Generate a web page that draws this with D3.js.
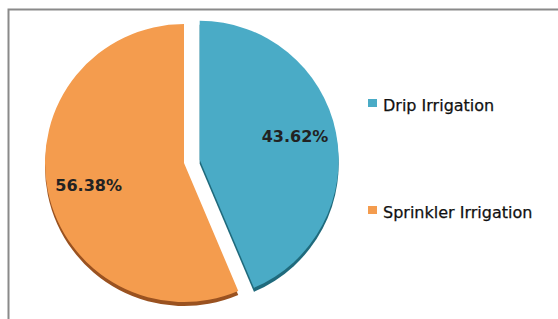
<!DOCTYPE html>
<html>
<head>
  <script src="https://d3js.org/d3.v7.min.js"></script>
  <style>
    body { margin: 0; background: #fff; }
  </style>
</head>
<body>
  <script>
    const categories = ["Drip Irrigation", "Sprinkler Irrigation"];
    const shares = [43.62, 56.38];
    const colors = ["#4aabc6", "#f49c4e"];
    const shadowColors = ["#1f6a7c", "#9a5220"];

    const width = 558, height = 319;
    const radius = 139;
    const cx = 184, cy = 163;
    const explode = 16;

    const svg = d3.select("body").append("svg")
      .attr("width", width)
      .attr("height", height);

    // frame (only top and left edges show in the crop)
    svg.append("path")
      .attr("d", "M8.5," + height + "V9.5H" + width)
      .attr("fill", "none")
      .attr("stroke", "#8a8a8a")
      .attr("stroke-width", 2);

    const pie = d3.pie().value(d => d).sort(null);
    const arc = d3.arc().innerRadius(0).outerRadius(radius);
    const slices = pie(shares);

    // explode the first slice along its bisector
    function offset(d, i) {
      if (i !== 0) return [0, 0];
      const a = (d.startAngle + d.endAngle) / 2;
      return [Math.sin(a) * explode, -Math.cos(a) * explode];
    }

    const g = svg.append("g").attr("transform", "translate(" + cx + "," + cy + ")");

    const arcs = g.selectAll(".arc")
      .data(slices)
      .enter()
      .append("g")
      .attr("class", "arc")
      .attr("transform", (d, i) => "translate(" + offset(d, i) + ")");

    // shadow below each slice
    arcs.append("path")
      .attr("d", arc)
      .attr("transform", "translate(0,4)")
      .attr("fill", (d, i) => shadowColors[i]);

    arcs.append("path")
      .attr("d", arc)
      .attr("fill", (d, i) => colors[i]);

    const labelArc = d3.arc().innerRadius(radius * 0.7).outerRadius(radius * 0.7);
    arcs.append("text")
      .attr("transform", d => {
        const c = labelArc.centroid(d);
        return "translate(" + c + ")";
      })
      .attr("text-anchor", "middle")
      .attr("dy", (d, i) => i === 0 ? "0.1em" : "0.55em")
      .attr("font-family", "DejaVu Sans, Verdana, sans-serif")
      .attr("font-weight", "bold")
      .attr("font-size", "16px")
      .attr("fill", "#222")
      .text(d => d.data.toFixed(2) + "%");

    // legend
    const legend = svg.append("g").attr("transform", "translate(368,99)");
    const items = legend.selectAll(".item")
      .data(categories)
      .enter()
      .append("g")
      .attr("class", "item")
      .attr("transform", (d, i) => "translate(0," + i * 107 + ")");

    items.append("rect")
      .attr("width", 9)
      .attr("height", 8)
      .attr("fill", (d, i) => colors[i]);

    items.append("text")
      .attr("x", 15)
      .attr("y", 12)
      .attr("font-family", "DejaVu Sans, Verdana, sans-serif")
      .attr("font-size", "16px")
      .attr("fill", "#111")
      .attr("stroke", "#111")
      .attr("stroke-width", 0.25)
      .text(d => d);
  </script>
</body>
</html>
